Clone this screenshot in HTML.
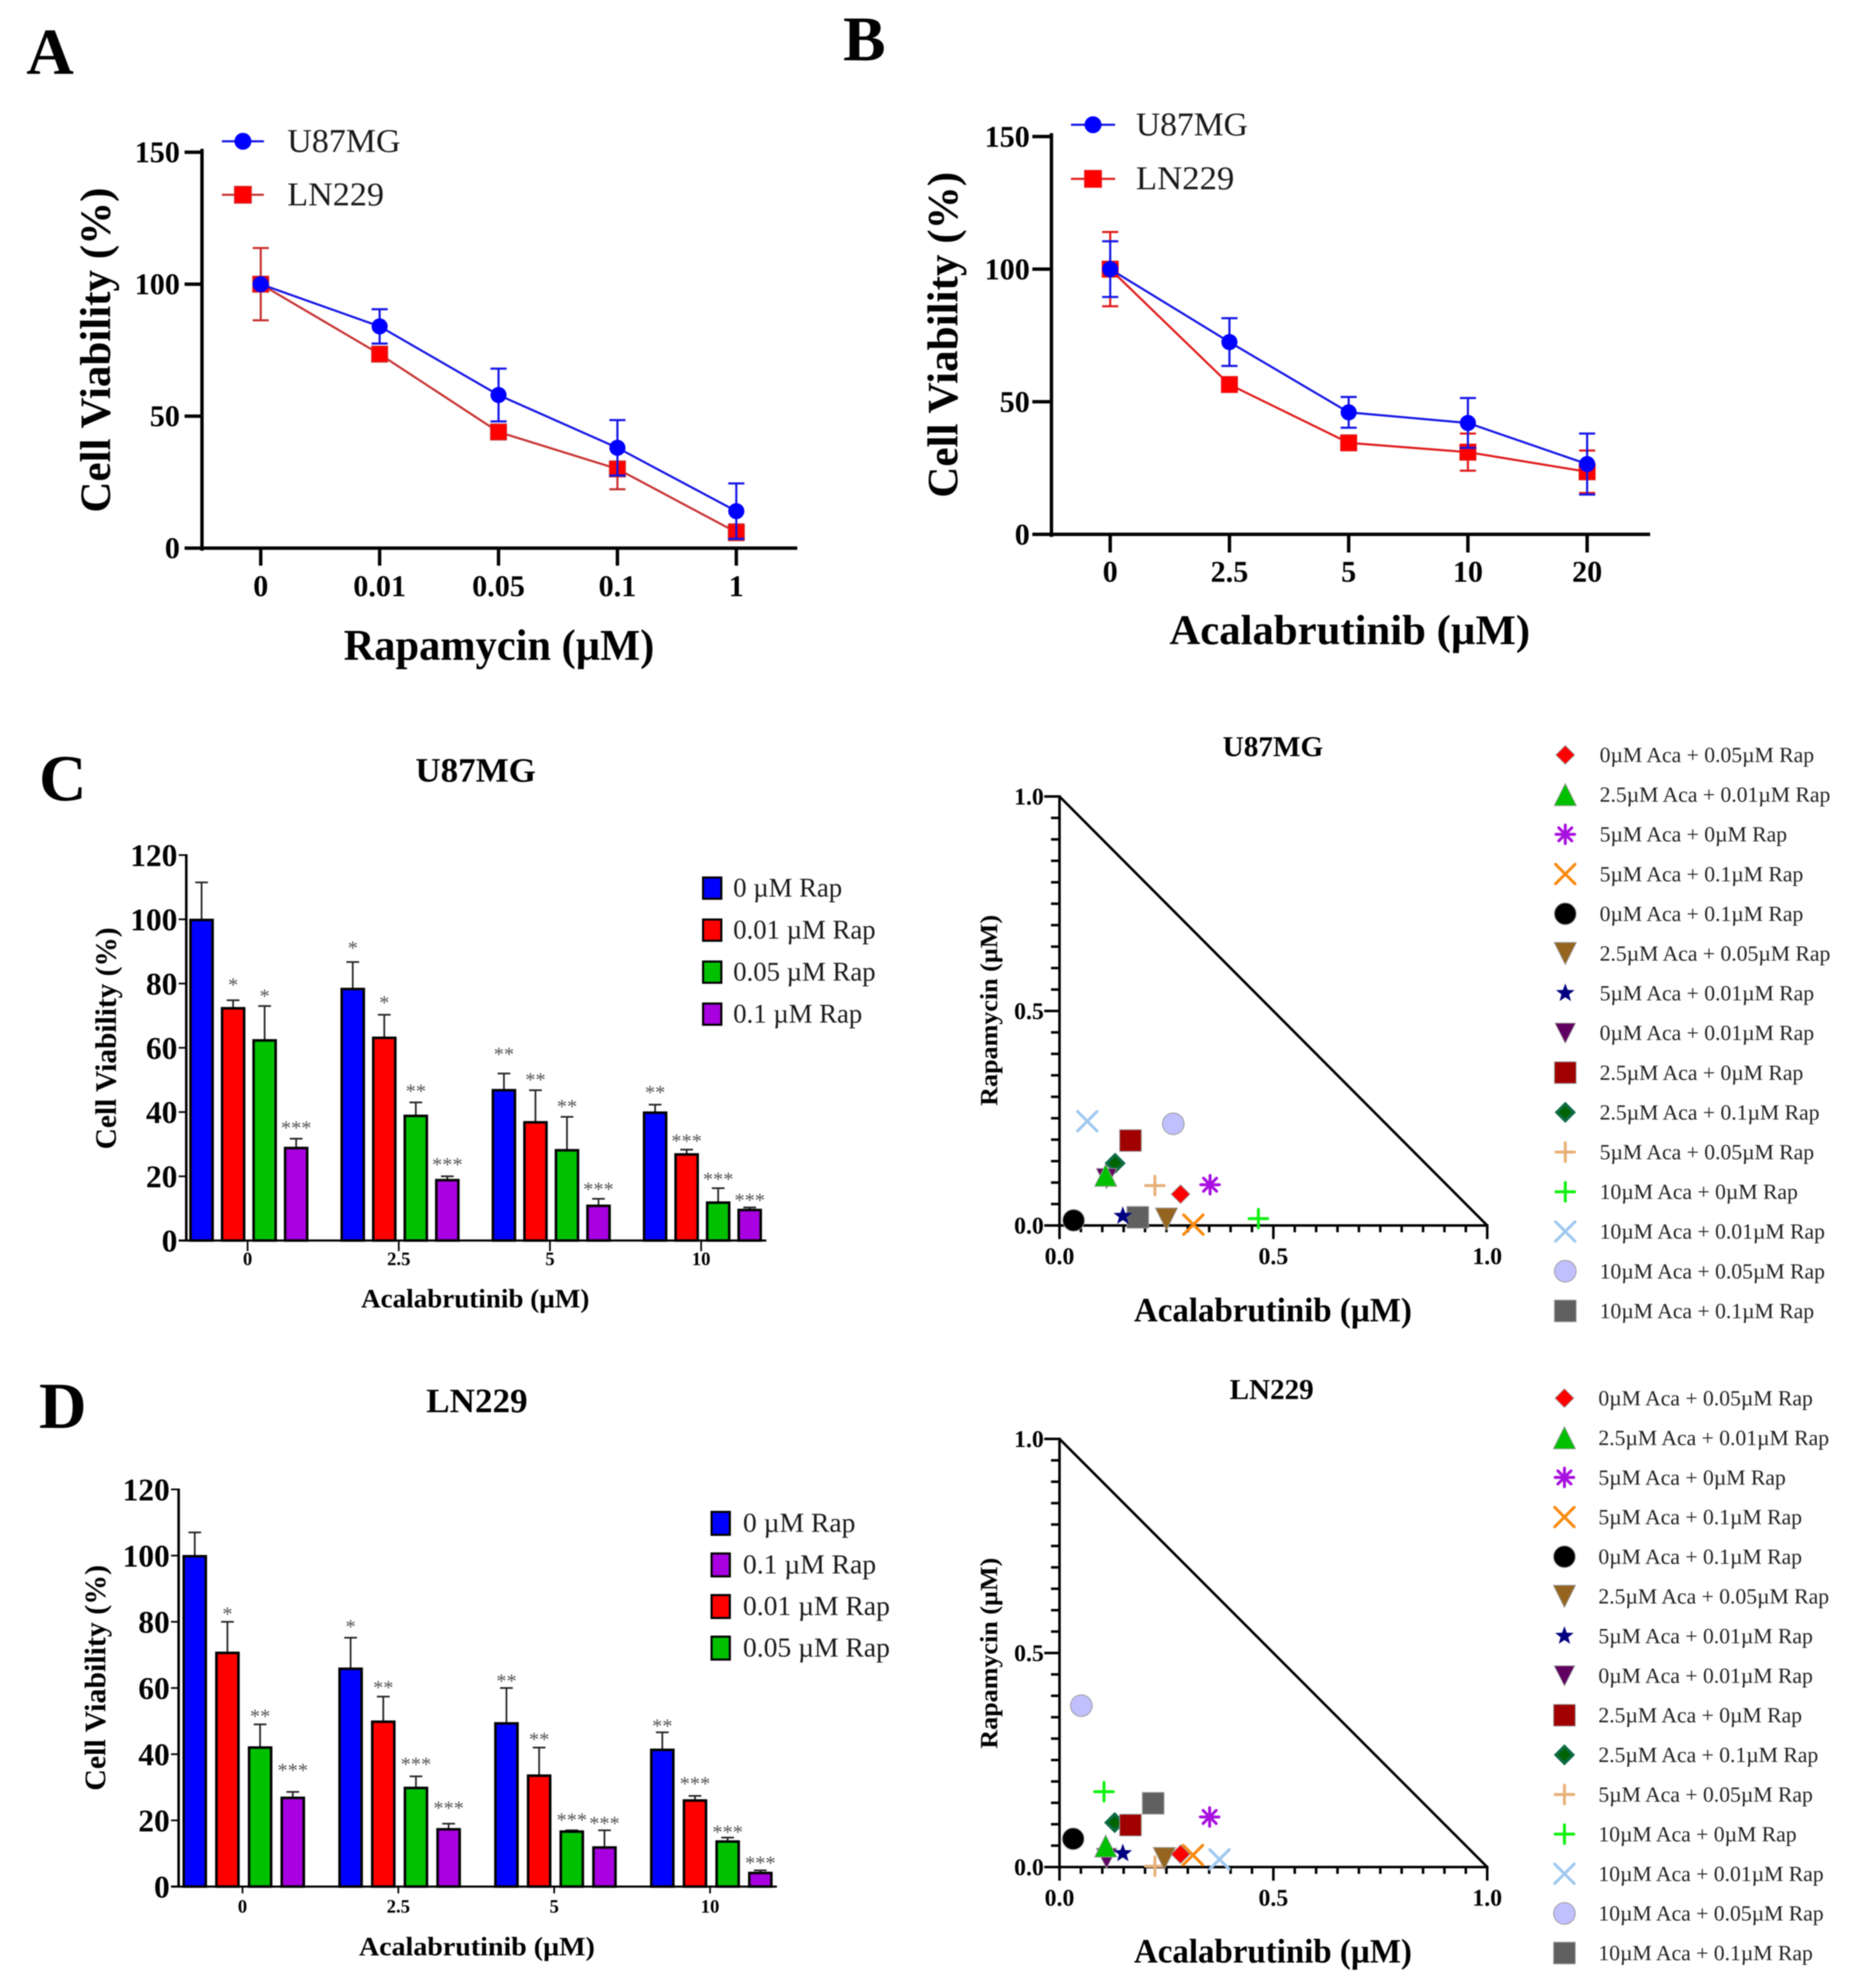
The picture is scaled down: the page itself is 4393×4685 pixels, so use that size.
<!DOCTYPE html>
<html lang="en">
<head>
<meta charset="utf-8">
<title>Cell viability panels</title>
<style>
html,body{margin:0;padding:0;background:#fff;}
body{width:4393px;height:4685px;overflow:hidden;}
svg{display:block;filter:blur(1.4px);}
text{font-family:"Liberation Serif","Noto Serif CJK SC",serif;}
.b{font-weight:bold;fill:#000;}
.r{fill:#1a1a1a;}
</style>
</head>
<body>
<svg id="figure" xmlns="http://www.w3.org/2000/svg" width="4393" height="4685" viewBox="0 0 4393 4685">
<rect width="4393" height="4685" fill="#fff"/>

<text class="b" x="62" y="174" font-size="155">A</text>
<text class="b" x="1987" y="142" font-size="150">B</text>
<text class="b" x="92" y="1886" font-size="155">C</text>
<text class="b" x="92" y="3365" font-size="155">D</text>

<g id="panel-a">
  <text class="b" font-size="102" text-anchor="middle" textLength="766" lengthAdjust="spacingAndGlyphs" transform="translate(259 825) rotate(-90)">Cell Viability (%)</text>
  <text class="b" font-size="104" text-anchor="middle" x="1176" y="1555" textLength="732" lengthAdjust="spacingAndGlyphs">Rapamycin (µM)</text>
  <text class="r" font-size="78" x="677" y="358" textLength="267" lengthAdjust="spacingAndGlyphs">U87MG</text>
  <text class="r" font-size="78" x="677" y="484" textLength="228" lengthAdjust="spacingAndGlyphs">LN229</text>
</g>
<g id="panel-b">
  <text class="b" font-size="102" text-anchor="middle" textLength="768" lengthAdjust="spacingAndGlyphs" transform="translate(2256 789) rotate(-90)">Cell Viability (%)</text>
  <text class="b" font-size="100" text-anchor="middle" x="3181" y="1518" textLength="850" lengthAdjust="spacingAndGlyphs">Acalabrutinib (µM)</text>
  <text class="r" font-size="78" x="2677" y="319" textLength="264" lengthAdjust="spacingAndGlyphs">U87MG</text>
  <text class="r" font-size="78" x="2677" y="446" textLength="232" lengthAdjust="spacingAndGlyphs">LN229</text>
</g>
<g id="panel-c">
  <text class="b" font-size="80" text-anchor="middle" x="1121" y="1842" textLength="284" lengthAdjust="spacingAndGlyphs">U87MG</text>
  <text class="b" font-size="70" text-anchor="middle" textLength="523" lengthAdjust="spacingAndGlyphs" transform="translate(273 2447) rotate(-90)">Cell Viability (%)</text>
  <text class="b" font-size="62" text-anchor="middle" x="1120" y="3081" textLength="538" lengthAdjust="spacingAndGlyphs">Acalabrutinib (µM)</text>
</g>
<g id="panel-d">
  <text class="b" font-size="80" text-anchor="middle" x="1124" y="3328" textLength="239" lengthAdjust="spacingAndGlyphs">LN229</text>
  <text class="b" font-size="70" text-anchor="middle" textLength="532" lengthAdjust="spacingAndGlyphs" transform="translate(248 3954) rotate(-90)">Cell Viability (%)</text>
  <text class="b" font-size="62" text-anchor="middle" x="1124" y="4608" textLength="556" lengthAdjust="spacingAndGlyphs">Acalabrutinib (µM)</text>
</g>
<g id="panel-c2">
  <text class="b" font-size="68" text-anchor="middle" x="3000" y="1782" textLength="237" lengthAdjust="spacingAndGlyphs">U87MG</text>
  <text class="b" font-size="58" text-anchor="middle" textLength="450" lengthAdjust="spacingAndGlyphs" transform="translate(2350 2381) rotate(-90)">Rapamycin (µM)</text>
  <text class="b" font-size="80" text-anchor="middle" x="3000" y="3114" textLength="655" lengthAdjust="spacingAndGlyphs">Acalabrutinib (µM)</text>
</g>
<g id="panel-d2">
  <text class="b" font-size="68" text-anchor="middle" x="2997" y="3297" textLength="198" lengthAdjust="spacingAndGlyphs">LN229</text>
  <text class="b" font-size="58" text-anchor="middle" textLength="450" lengthAdjust="spacingAndGlyphs" transform="translate(2350 3896) rotate(-90)">Rapamycin (µM)</text>
  <text class="b" font-size="80" text-anchor="middle" x="3000" y="4625" textLength="655" lengthAdjust="spacingAndGlyphs">Acalabrutinib (µM)</text>
</g>
</svg>

<script>
/* ---------- Panel A data ---------- */
const aDoses = ['0', '0.01', '0.05', '0.1', '1'];
const aU87 = [100, 84, 58, 38, 14];
const aU87Err = [0, 6.5, 10, 10.5, 10.5];
const aLN = [100, 73.5, 44, 30, 6];
const aLNErr = [13.7, 1, 1, 7.7, 3];
/* ---------- Panel B data ---------- */
const bDoses = ['0', '2.5', '5', '10', '20'];
const bU87 = [100, 72.5, 46, 42, 26.5];
const bU87Err = [10.5, 9, 5.8, 9.4, 11.5];
const bLN = [100, 56.5, 34.5, 31, 23.6];
const bLNErr = [14, 1, 1, 7, 8];
const lineTicks = [0, 50, 100, 150];

/* ---------- Panels C / D data ---------- */
const barDoses = ['0', '2.5', '5', '10'];
const barTicks = [0, 20, 40, 60, 80, 100, 120];
const cColors = ['#0000ff', '#ff0000', '#00c000', '#a800e0'];
const cRapNames = ['0 µM Rap', '0.01 µM Rap', '0.05 µM Rap', '0.1 µM Rap'];
const cValues = [[100, 72.5, 62.5, 29], [78.5, 63.3, 39, 19], [47, 37, 28.3, 11], [40, 27, 12, 9.7]];
const cErrTops = [[111.5, 74.8, 73, 31.7], [86.7, 70.3, 43, 20], [52, 46.8, 38.5, 13], [42.3, 28.3, 16.3, 10.3]];
const cStars = [['', '*', '*', '***'], ['*', '*', '**', '***'], ['**', '**', '**', '***'], ['**', '***', '***', '***']];
const cStarLevels = [[0, 80.5, 77, 36], [92, 75, 47.4, 24.6], [58.9, 51, 42.7, 16.9], [47, 31.9, 20, 13.5]];

const dLegendColors = ['#0000ff', '#a800e0', '#ff0000', '#00c000'];
const dRapNames = ['0 µM Rap', '0.1 µM Rap', '0.01 µM Rap', '0.05 µM Rap'];
const dValues = [[100, 70.8, 42.2, 27], [66, 50, 30, 17.5], [49.5, 33.7, 16.8, 12], [41.5, 26.2, 13.8, 4.3]];
const dErrTops = [[107, 80, 49, 28.6], [75.2, 57.4, 33.3, 19], [60, 42, 17, 17], [46.6, 27.4, 14.8, 4.9]];
const dStars = [['', '*', '**', '***'], ['*', '**', '***', '***'], ['**', '**', '***', '***'], ['**', '***', '***', '***']];
const dStarLevels = [[0, 83.3, 52.4, 36], [79.4, 61, 37.9, 24.6], [63, 45.4, 21, 20], [49.4, 32, 17.4, 8]];

/* ---------- Isobologram data ---------- */
const comboNames = ['0µM Aca + 0.05µM Rap', '2.5µM Aca + 0.01µM Rap', '5µM Aca + 0µM Rap', '5µM Aca + 0.1µM Rap', '0µM Aca + 0.1µM Rap', '2.5µM Aca + 0.05µM Rap', '5µM Aca + 0.01µM Rap', '0µM Aca + 0.01µM Rap', '2.5µM Aca + 0µM Rap', '2.5µM Aca + 0.1µM Rap', '5µM Aca + 0.05µM Rap', '10µM Aca + 0µM Rap', '10µM Aca + 0.01µM Rap', '10µM Aca + 0.05µM Rap', '10µM Aca + 0.1µM Rap'];
const comboShapes = ['diamond', 'triUp', 'asterisk', 'cross', 'circle', 'triDown', 'star', 'triDownSmall', 'square', 'ringDiamond', 'plus', 'plus', 'cross', 'circle', 'square'];
const comboColors = ['#ff0000', '#00c000', '#a810e0', '#f88a10', '#000000', '#956520', '#000080', '#600060', '#a00000', '#006400', '#e8b078', '#10f010', '#a0c8f0', '#c0c0ff', '#606060'];
const u87CI = [0.283, 0.108, 0.352, 0.313, 0.033, 0.25, 0.148, 0.11, 0.166, 0.13, 0.223, 0.465, 0.065, 0.266, 0.183];
const u87DRI = [0.073, 0.117, 0.095, 0.002, 0.012, 0.015, 0.022, 0.11, 0.198, 0.145, 0.093, 0.016, 0.243, 0.237, 0.019];
const lnCI = [0.283, 0.108, 0.351, 0.312, 0.032, 0.245, 0.148, 0.11, 0.166, 0.129, 0.223, 0.104, 0.374, 0.051, 0.219];
const lnDRI = [0.03, 0.049, 0.117, 0.028, 0.066, 0.02, 0.032, 0.021, 0.098, 0.104, 0.002, 0.176, 0.018, 0.377, 0.149];
const isoTicks = [0, 0.5, 1];
const isoMinorCount = 20;

const NS = 'http://www.w3.org/2000/svg';
function add(parent, tag, attrs, txt) {
  const n = document.createElementNS(NS, tag);
  for (const k in attrs) n.setAttribute(k, attrs[k]);
  if (txt !== undefined) n.textContent = txt;
  parent.appendChild(n);
  return n;
}
function seg(parent, x1, y1, x2, y2, color, w) {
  return add(parent, 'line', {x1: x1, y1: y1, x2: x2, y2: y2, stroke: color, 'stroke-width': w});
}

/* ---------- Line charts ---------- */
function drawLinePoint(g, shape, x, y, fill, edge, r) {
  if (shape === 'circle') return add(g, 'circle', {cx: x, cy: y, r: r, fill: fill});
  return add(g, 'rect', {x: x - r, y: y - r, width: 2 * r, height: 2 * r, fill: fill, stroke: edge, 'stroke-width': 2});
}
function lineSeries(g, xs, yFn, vals, errs, lineColor, fill, shape, label) {
  const pts = vals.map((v, i) => xs(i) + ',' + yFn(v)).join(' ');
  const errGroup = add(g, 'g', {});
  
  
  vals.forEach((v, i) => {
    if (!errs[i]) return;
    const x = xs(i), hi = yFn(v + errs[i]), lo = yFn(v - errs[i]);
    seg(errGroup, x, hi, x, lo, lineColor, 5);
    seg(errGroup, x - 19, hi, x + 19, hi, lineColor, 5);
    seg(errGroup, x - 19, lo, x + 19, lo, lineColor, 5);
  });
  const line = add(g, 'polyline', {points: pts, fill: 'none', stroke: lineColor, 'stroke-width': 5});
  
  
  vals.forEach((v, i) => {
    const p = drawLinePoint(g, shape, xs(i), yFn(v), fill, lineColor, 19);
    
    
  });
}
function lineChart(id, doses, ticks, yBase, yPerUnit, xAxis, x0, xStep, xEnd, tickLeft, tickBottom, labelRight, labelY, redLine, series, legend) {
  const g = document.getElementById(id);
  const xs = i => x0 + i * xStep;
  const yFn = v => yBase - v * yPerUnit;
  const axisTop = yFn(ticks[ticks.length - 1]);
  const ya = seg(g, xAxis, axisTop - 8, xAxis, yBase + 6, '#000', 8);
  
  
  const xa = seg(g, xAxis, yBase, xEnd, yBase, '#000', 8);
  
  
  ticks.forEach(t => {
    const tk = seg(g, tickLeft, yFn(t), xAxis, yFn(t), '#000', 8);
    
    
    const lb = add(g, 'text', {x: labelRight, y: yFn(t) + 24, 'text-anchor': 'end', 'font-size': 71, class: 'b'}, String(t));
    
    
  });
  doses.forEach((d, i) => {
    const tk = seg(g, xs(i), yBase, xs(i), tickBottom, '#000', 8);
    
    
    const lb = add(g, 'text', {x: xs(i), y: labelY, 'text-anchor': 'middle', 'font-size': 71, class: 'b'}, d);
    
    
  });
  lineSeries(g, xs, yFn, series.ln, series.lnErr, redLine, '#ff0000', 'square', 'ln229');
  lineSeries(g, xs, yFn, series.u87, series.u87Err, '#1414e6', '#0000ff', 'circle', 'u87mg');
  const l1 = seg(g, legend.x1, legend.y1, legend.x2, legend.y1, '#1414e6', 5);
  
  
  const m1 = drawLinePoint(g, 'circle', (legend.x1 + legend.x2) / 2, legend.y1, '#0000ff', '#1414e6', 20);
  
  
  const l2 = seg(g, legend.x1, legend.y2, legend.x2, legend.y2, redLine, 5);
  
  
  const m2 = drawLinePoint(g, 'square', (legend.x1 + legend.x2) / 2, legend.y2, '#ff0000', redLine, 20);
  
  
}
lineChart('panel-a', aDoses, lineTicks, 1291.7, 6.22, 476, 614.5, 280.2, 1879, 435, 1333, 424, 1405, '#c83232',
  {u87: aU87, u87Err: aU87Err, ln: aLN, lnErr: aLNErr}, {x1: 523, x2: 622, y1: 333, y2: 459});
lineChart('panel-b', bDoses, lineTicks, 1259.3, 6.25, 2478, 2616.5, 281, 3889, 2433, 1302, 2427, 1371, '#e01a1a',
  {u87: bU87, u87Err: bU87Err, ln: bLN, lnErr: bLNErr}, {x1: 2524, x2: 2628, y1: 294, y2: 421.5});

/* ---------- Bar charts ---------- */
function barChart(id, cfg, doses, values, errTops, stars, starLevels, colors, legendColors, legendNames) {
  const g = document.getElementById(id);
  const yFn = v => cfg.yBase - v * cfg.yPerUnit;
  const center = i => cfg.x0 + i * cfg.groupStep;
  values.forEach((grp, i) => {
    grp.forEach((v, j) => {
      const cx = center(i) + (j - 1.5) * cfg.pitch;
      const top = yFn(v), errY = yFn(errTops[i][j]);
      const e = seg(g, cx, top, cx, errY, '#222', 4);
      
      
      const c = seg(g, cx - 15, errY, cx + 15, errY, '#222', 4);
      
      
      const b = add(g, 'rect', {x: cx - cfg.barW / 2, y: top + 1.5, width: cfg.barW, height: cfg.yBase - top - 1.5, fill: colors[j], stroke: '#000', 'stroke-width': 6});
      
      
      if (stars[i][j]) {
        const s = add(g, 'text', {x: cx, y: yFn(starLevels[i][j]) + 23, 'text-anchor': 'middle', 'font-size': 48, fill: '#555'}, stars[i][j]);
        
        
      }
    });
  });
  const ya = seg(g, cfg.xAxis, yFn(120) - 2, cfg.xAxis, cfg.yBase + 2, '#000', 6);
  
  
  const xa = seg(g, cfg.xAxis - 18, cfg.yBase, cfg.xEnd, cfg.yBase, '#000', 5);
  
  
  barTicks.forEach(t => {
    const tk = seg(g, cfg.xAxis - 18, yFn(t), cfg.xAxis, yFn(t), '#000', 4);
    
    
    const lb = add(g, 'text', {x: cfg.yLabelRight, y: yFn(t) + 26, 'text-anchor': 'end', 'font-size': 74, class: 'b'}, String(t));
    
    
  });
  doses.forEach((d, i) => {
    const x = center(i) - 3;
    const tk = seg(g, x, cfg.yBase, x, cfg.yBase + cfg.tickLen, '#000', 4);
    
    
    const lb = add(g, 'text', {x: x, y: cfg.xLabelY, 'text-anchor': 'middle', 'font-size': 44, class: 'b'}, d);
    
    
  });
  legendNames.forEach((name, i) => {
    const yc = cfg.legY + i * cfg.legStep;
    const sw = add(g, 'rect', {x: cfg.legX, y: yc - cfg.legH / 2, width: cfg.legW, height: cfg.legH, fill: legendColors[i], stroke: '#000', 'stroke-width': 5});
    
    
    const tx = add(g, 'text', {x: cfg.legTextX, y: yc + 20, 'font-size': cfg.legFont, class: 'r'}, name);
    
    
  });
}
barChart('panel-c', {yBase: 2923.5, yPerUnit: 7.57, x0: 586.5, groupStep: 356.3, pitch: 74.3, barW: 52, xAxis: 439, xEnd: 1806, yLabelRight: 418, tickLen: 25, xLabelY: 2981, legX: 1657, legW: 43, legH: 50, legY: 2093, legStep: 99, legTextX: 1728, legFont: 63},
  barDoses, cValues, cErrTops, cStars, cStarLevels, cColors, cColors, cRapNames);
barChart('panel-d', {yBase: 4446, yPerUnit: 7.80, x0: 574.5, groupStep: 367.3, pitch: 77, barW: 52, xAxis: 421, xEnd: 1831, yLabelRight: 400, tickLen: 16, xLabelY: 4507, legX: 1677, legW: 43, legH: 54, legY: 3590, legStep: 98, legTextX: 1751, legFont: 65},
  barDoses, dValues, dErrTops, dStars, dStarLevels, cColors, dLegendColors, dRapNames);

/* ---------- Isobolograms ---------- */
function marker(g, shape, color, x, y) {
  const outline = {stroke: '#999', 'stroke-width': 2};
  if (shape === 'diamond') {
    return add(g, 'polygon', Object.assign({points: [x, y - 22, x + 22, y, x, y + 22, x - 22, y].join(' '), fill: color}, outline));
  }
  if (shape === 'ringDiamond') {
    const w = add(g, 'g', {});
    add(w, 'polygon', {points: [x, y - 25, x + 25, y, x, y + 25, x - 25, y].join(' '), fill: '#0d6b45'});
    add(w, 'polygon', {points: [x, y - 15, x + 15, y, x, y + 15, x - 15, y].join(' '), fill: color});
    return w;
  }
  if (shape === 'triUp') {
    return add(g, 'polygon', Object.assign({points: [x, y - 26, x + 26, y + 26, x - 26, y + 26].join(' '), fill: color}, outline));
  }
  if (shape === 'triDown') {
    return add(g, 'polygon', Object.assign({points: [x, y + 26, x + 26, y - 26, x - 26, y - 26].join(' '), fill: color}, outline));
  }
  if (shape === 'triDownSmall') {
    return add(g, 'polygon', Object.assign({points: [x, y + 24, x + 24, y - 23, x - 24, y - 23].join(' '), fill: color}, outline));
  }
  if (shape === 'square') {
    return add(g, 'rect', Object.assign({x: x - 25.5, y: y - 25.5, width: 51, height: 51, fill: color}, outline));
  }
  if (shape === 'circle') {
    return add(g, 'circle', Object.assign({cx: x, cy: y, r: 25.5, fill: color}, outline));
  }
  if (shape === 'star') {
    const pts = [];
    for (let k = 0; k < 10; k++) {
      const r = k % 2 ? 9.5 : 23;
      const a = -Math.PI / 2 + k * Math.PI / 5;
      pts.push(x + r * Math.cos(a), y + r * Math.sin(a));
    }
    return add(g, 'polygon', {points: pts.join(' '), fill: color});
  }
  let d = '';
  if (shape === 'plus') d = `M${x - 22} ${y}H${x + 22}M${x} ${y - 22}V${y + 22}`;
  if (shape === 'cross') d = `M${x - 23} ${y - 23}L${x + 23} ${y + 23}M${x + 23} ${y - 23}L${x - 23} ${y + 23}`;
  if (shape === 'asterisk') {
    d = `M${x} ${y - 22}V${y + 22}M${x - 22} ${y}H${x + 22}M${x - 15.5} ${y - 15.5}L${x + 15.5} ${y + 15.5}M${x + 15.5} ${y - 15.5}L${x - 15.5} ${y + 15.5}`;
  }
  return add(g, 'path', {d: d, fill: 'none', stroke: color, 'stroke-width': 7, 'stroke-linecap': 'round'});
}
function isobologram(id, cfg, xVals, yVals) {
  const g = document.getElementById(id);
  const xFn = v => cfg.x0 + v * (cfg.x1 - cfg.x0);
  const yFn = v => cfg.y0 - v * (cfg.y0 - cfg.y1);
  for (let k = 0; k <= isoMinorCount; k++) {
    const v = k / isoMinorCount;
    const major = k % 10 === 0;
    const ty = seg(g, cfg.x0 - (major ? 36 : 20), yFn(v), cfg.x0, yFn(v), '#000', 6);
    
    
    const tx = seg(g, xFn(v), cfg.y0, xFn(v), cfg.y0 + (major ? 32 : 16), '#000', 6);
    
    
  }
  const ya = seg(g, cfg.x0, cfg.y1 - 3, cfg.x0, cfg.y0 + 3, '#000', 6);
  
  
  const xa = seg(g, cfg.x0 - 3, cfg.y0, cfg.x1 + 3, cfg.y0, '#000', 6);
  
  
  const diag = seg(g, xFn(0), yFn(1), xFn(1), yFn(0), '#000', 6);
  
  
  isoTicks.forEach(t => {
    const ly = add(g, 'text', {x: cfg.x0 - 37, y: yFn(t) + 19, 'text-anchor': 'end', 'font-size': 56, class: 'b'}, t.toFixed(1));
    
    
    const lx = add(g, 'text', {x: xFn(t), y: cfg.xLabelY, 'text-anchor': 'middle', 'font-size': 56, class: 'b'}, t.toFixed(1));
    
    
  });
  for (let i = comboNames.length - 1; i >= 0; i--) {
    const p = marker(g, comboShapes[i], comboColors[i], xFn(xVals[i]), yFn(yVals[i]));
    
    
  }
  comboNames.forEach((name, i) => {
    const yc = cfg.legY + i * cfg.legStep;
    const m = marker(g, comboShapes[i], comboColors[i], cfg.legMarkX, yc);
    
    
    const t = add(g, 'text', {x: cfg.legTextX, y: yc + 17, 'font-size': 51, fill: '#222'}, name);
    
    
  });
}
isobologram('panel-c2', {x0: 2497, x1: 3505, y0: 2888, y1: 1877, xLabelY: 2979, legY: 1779, legStep: 93.6, legMarkX: 3689, legTextX: 3770}, u87CI, u87DRI);
isobologram('panel-d2', {x0: 2497, x1: 3505, y0: 4400, y1: 3391, xLabelY: 4491, legY: 3295, legStep: 93.4, legMarkX: 3687, legTextX: 3767}, lnCI, lnDRI);
</script>
</body>
</html>
